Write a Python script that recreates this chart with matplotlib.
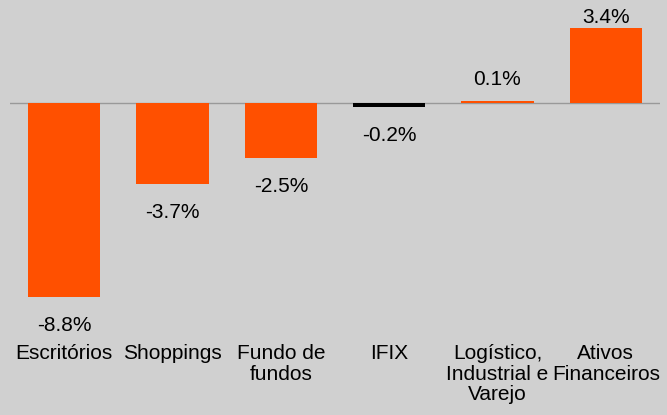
import matplotlib

matplotlib.use("Agg")
import matplotlib.pyplot as plt
import matplotlib.transforms as mtransforms
import numpy as np

categories = ["Escritórios", "Shoppings", "Fundo de\nfundos", "IFIX",
              "Logístico,\nIndustrial e\nVarejo", "Ativos\nFinanceiros"]
returns = [-8.8, -3.7, -2.5, -0.2, 0.1, 3.4]
highlight = "IFIX"

_ORANGE = "#ff5000"
_BG = "#d0d0d0"
_FS = 15

plt.rcParams["font.family"] = ["Liberation Sans", "DejaVu Sans"]

fig = plt.figure(figsize=(6.67, 4.15), dpi=100, facecolor=_BG)
W, H = 667, 415
# axes spans x 10..660 px, y 5..300 px (from top); zero line at y=103
ax = fig.add_axes([10 / W, 1 - 300 / H, 650 / W, 295 / H])
ax.set_facecolor(_BG)
px = 22.0   # pixels per percentage point
ymax = (103 - 5) / px
ax.set_xlim(-0.5, len(categories) - 0.5)
ax.set_ylim(-(300 - 103) / px, ymax)

x = np.arange(len(categories))
colors = ["black" if c == highlight else _ORANGE for c in categories]
ax.bar(x, returns, width=0.67, color=colors, zorder=2)
ax.axhline(0, color="#999999", linewidth=1.0, zorder=1)

for xi, v in zip(x, returns):
    if v >= 0:
        # centre ~22 px above bar, but keep inside the top of the canvas
        yc = min(v + 21 / px, ymax - 12 / px)
        ax.text(xi, yc, f"{v:.1f}%", ha="center", va="center", fontsize=_FS)
    else:
        ax.annotate(f"{v:.1f}%", (xi, v), xytext=(0, -20.5), textcoords="offset points",
                    ha="center", va="center", fontsize=_FS)

label_tf = mtransforms.blended_transform_factory(ax.transData, fig.transFigure)
for xi, label in zip(x, categories):
    ax.text(xi, 1 - 344 / H, label, ha="center", va="top", fontsize=_FS,
            linespacing=1.1, transform=label_tf)

ax.axis("off")

fig.savefig("out.png", dpi=100, facecolor=_BG)
